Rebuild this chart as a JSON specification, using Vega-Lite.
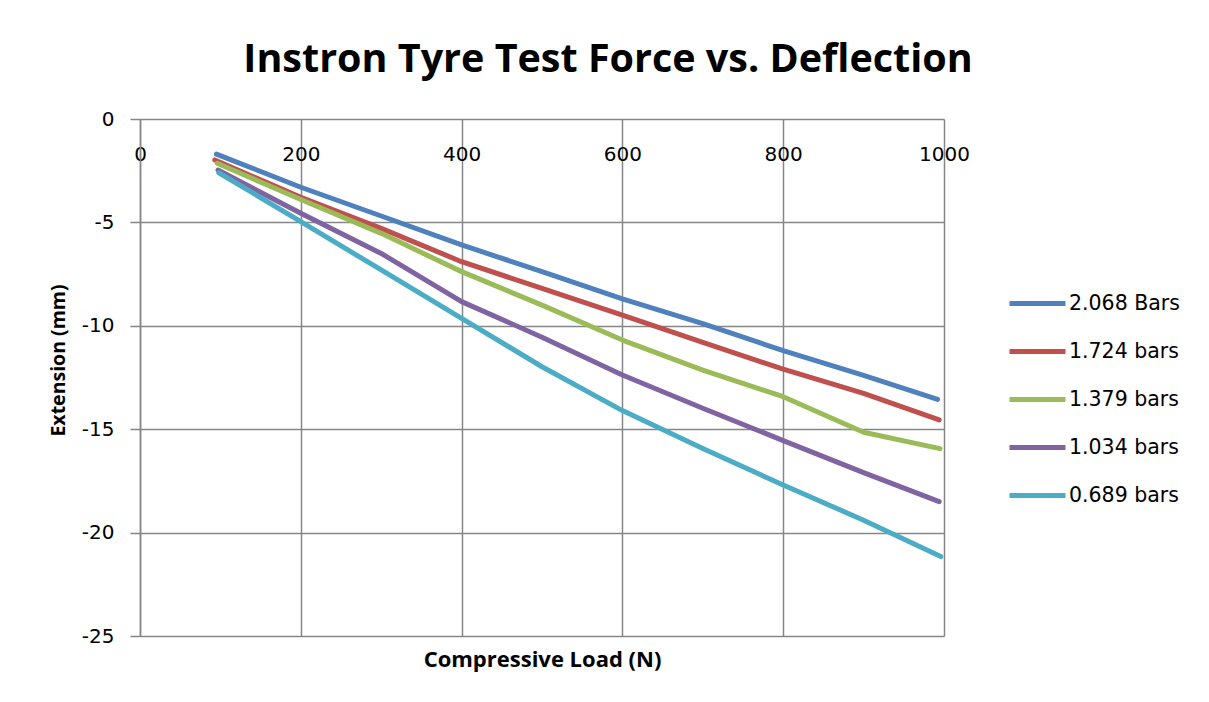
{
  "$schema": "https://vega.github.io/schema/vega-lite/v6.json",
  "width": 804,
  "height": 517,
  "autosize": {"type": "none"},
  "padding": {"left": 140, "top": 119, "right": 265, "bottom": 66},
  "background": "white",
  "title": {
    "text": "Instron Tyre Test Force vs. Deflection",
    "font": "Open Sans",
    "fontSize": 39.5,
    "fontWeight": "bold",
    "color": "black",
    "anchor": "middle",
    "frame": "group",
    "dx": 66,
    "dy": 46,
    "baseline": "alphabetic",
    "offset": 44
  },
  "data": {
    "values": [
      {"series": "2.068 Bars", "load": 95, "ext": -1.70},
      {"series": "2.068 Bars", "load": 200, "ext": -3.30},
      {"series": "2.068 Bars", "load": 300, "ext": -4.69},
      {"series": "2.068 Bars", "load": 400, "ext": -6.09},
      {"series": "2.068 Bars", "load": 500, "ext": -7.38},
      {"series": "2.068 Bars", "load": 600, "ext": -8.70},
      {"series": "2.068 Bars", "load": 700, "ext": -9.90},
      {"series": "2.068 Bars", "load": 800, "ext": -11.20},
      {"series": "2.068 Bars", "load": 900, "ext": -12.40},
      {"series": "2.068 Bars", "load": 992, "ext": -13.56},
      {"series": "1.724 bars", "load": 93, "ext": -1.98},
      {"series": "1.724 bars", "load": 200, "ext": -3.79},
      {"series": "1.724 bars", "load": 300, "ext": -5.29},
      {"series": "1.724 bars", "load": 400, "ext": -6.90},
      {"series": "1.724 bars", "load": 500, "ext": -8.19},
      {"series": "1.724 bars", "load": 600, "ext": -9.48},
      {"series": "1.724 bars", "load": 700, "ext": -10.80},
      {"series": "1.724 bars", "load": 800, "ext": -12.10},
      {"series": "1.724 bars", "load": 900, "ext": -13.27},
      {"series": "1.724 bars", "load": 994, "ext": -14.55},
      {"series": "1.379 bars", "load": 96, "ext": -2.14},
      {"series": "1.379 bars", "load": 200, "ext": -3.89},
      {"series": "1.379 bars", "load": 300, "ext": -5.53},
      {"series": "1.379 bars", "load": 400, "ext": -7.38},
      {"series": "1.379 bars", "load": 500, "ext": -9.00},
      {"series": "1.379 bars", "load": 600, "ext": -10.69},
      {"series": "1.379 bars", "load": 700, "ext": -12.14},
      {"series": "1.379 bars", "load": 800, "ext": -13.43},
      {"series": "1.379 bars", "load": 900, "ext": -15.15},
      {"series": "1.379 bars", "load": 995, "ext": -15.94},
      {"series": "1.034 bars", "load": 97, "ext": -2.47},
      {"series": "1.034 bars", "load": 200, "ext": -4.56},
      {"series": "1.034 bars", "load": 300, "ext": -6.50},
      {"series": "1.034 bars", "load": 400, "ext": -8.83},
      {"series": "1.034 bars", "load": 500, "ext": -10.55},
      {"series": "1.034 bars", "load": 600, "ext": -12.38},
      {"series": "1.034 bars", "load": 700, "ext": -13.99},
      {"series": "1.034 bars", "load": 800, "ext": -15.55},
      {"series": "1.034 bars", "load": 900, "ext": -17.10},
      {"series": "1.034 bars", "load": 994, "ext": -18.50},
      {"series": "0.689 bars", "load": 98, "ext": -2.60},
      {"series": "0.689 bars", "load": 200, "ext": -4.96},
      {"series": "0.689 bars", "load": 300, "ext": -7.30},
      {"series": "0.689 bars", "load": 400, "ext": -9.64},
      {"series": "0.689 bars", "load": 500, "ext": -11.98},
      {"series": "0.689 bars", "load": 600, "ext": -14.10},
      {"series": "0.689 bars", "load": 700, "ext": -15.93},
      {"series": "0.689 bars", "load": 800, "ext": -17.70},
      {"series": "0.689 bars", "load": 900, "ext": -19.40},
      {"series": "0.689 bars", "load": 996, "ext": -21.16}
    ]
  },
  "mark": {"type": "line", "strokeWidth": 5, "strokeCap": "round", "strokeJoin": "round", "clip": false},
  "encoding": {
    "x": {
      "field": "load",
      "type": "quantitative",
      "scale": {"domain": [0, 1000], "nice": false, "zero": false},
      "axis": {
        "title": "Compressive Load (N)",
        "orient": "bottom",
        "offset": -517,
        "values": [0, 200, 400, 600, 800, 1000],
        "labelExpr": "'' + datum.value",
        "domain": false,
        "ticks": false,
        "grid": true,
        "gridColor": "#868686",
        "gridWidth": 1.5,
        "labelFont": "DejaVu Sans",
        "labelFontSize": 20,
        "labelColor": "black",
        "labelPadding": 25,
        "labelFlush": false,
        "labelOverlap": false,
        "titleFont": "Open Sans",
        "titleFontSize": 22,
        "titleFontWeight": "bold",
        "titleColor": "black",
        "titleY": 540,
        "titleBaseline": "middle"
      }
    },
    "y": {
      "field": "ext",
      "type": "quantitative",
      "scale": {"domain": [-25, 0], "nice": false, "zero": false},
      "axis": {
        "title": "Extension (mm)",
        "values": [-25, -20, -15, -10, -5, 0],
        "labelExpr": "'' + datum.value",
        "domain": true,
        "domainColor": "#868686",
        "domainWidth": 1.5,
        "ticks": true,
        "tickColor": "#868686",
        "tickWidth": 1.5,
        "tickSize": 10,
        "grid": true,
        "gridColor": "#868686",
        "gridWidth": 1.5,
        "labelFont": "DejaVu Sans",
        "labelFontSize": 20,
        "labelColor": "black",
        "labelPadding": 16,
        "labelFlush": false,
        "labelOverlap": false,
        "titleFont": "Open Sans",
        "titleFontSize": 19.5,
        "titleFontWeight": "bold",
        "titleColor": "black",
        "titlePadding": 13,
        "titleY": 241
      }
    },
    "color": {
      "field": "series",
      "type": "nominal",
      "sort": ["2.068 Bars", "1.724 bars", "1.379 bars", "1.034 bars", "0.689 bars"],
      "scale": {
        "domain": ["2.068 Bars", "1.724 bars", "1.379 bars", "1.034 bars", "0.689 bars"],
        "range": ["#4F81BD", "#C0504D", "#9BBB59", "#8064A2", "#4BACC6"]
      },
      "legend": {
        "title": null,
        "orient": "none",
        "legendX": 867,
        "legendY": 154,
        "symbolType": "stroke",
        "symbolSize": 3136,
        "symbolStrokeWidth": 5,
        "rowPadding": 7,
        "labelFont": "DejaVu Sans",
        "labelFontSize": 20.5,
        "labelColor": "black",
        "labelOffset": 1
      }
    }
  },
  "config": {
    "view": {"stroke": null}
  }
}
